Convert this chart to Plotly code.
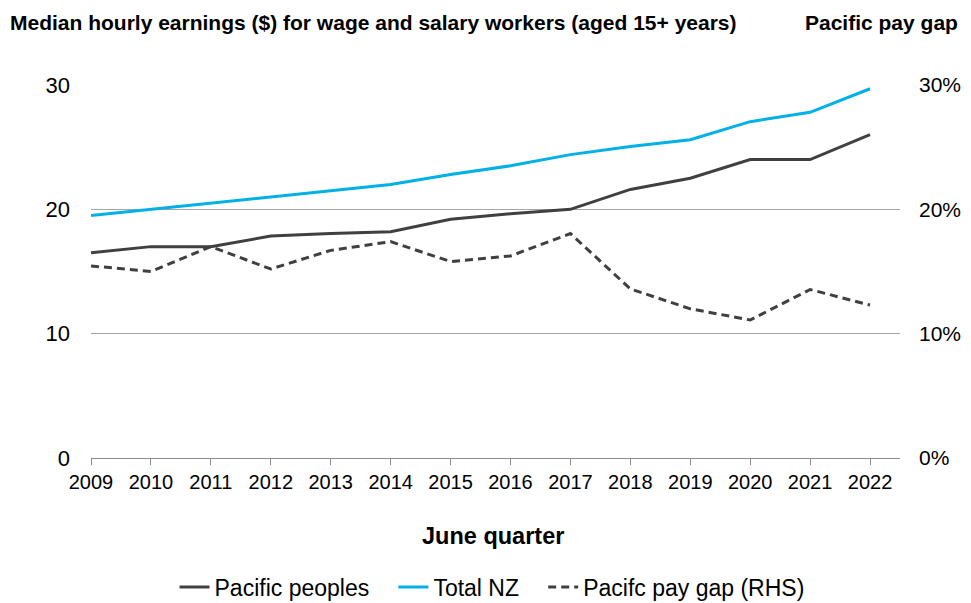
import plotly.graph_objects as go

years = list(range(2009, 2023))
pacific_peoples = [16.5, 17.0, 17.0, 17.85, 18.05, 18.2, 19.2, 19.65, 20.0, 21.6, 22.5, 24.0, 24.0, 26.0]
total_nz = [19.5, 20.0, 20.5, 21.0, 21.55, 22.0, 22.8, 23.5, 24.4, 25.05, 25.6, 27.05, 27.8, 29.7]
pay_gap_pct = [15.45, 15.0, 17.0, 15.2, 16.7, 17.4, 15.8, 16.25, 18.05, 13.6, 12.0, 11.1, 13.55, 12.3]
left_ticks = [0, 10, 20, 30]
right_ticks = [0, 10, 20, 30]
right_labels = ["0%", "10%", "20%", "30%"]

FONT = "Liberation Sans, Arial, sans-serif"
DARK = "#404040"
CYAN = "#00B0E6"
PAD = "\u00a0" * 3  # extra spacing between legend entries

# page has an 8px body margin; figure coords = page coords - 8
W, H = 963, 595
L, T = 83, 77
PW, PH = 809, 373
R = W - L - PW
B = H - T - PH

fig = go.Figure()
fig.add_trace(go.Scatter(x=years, y=pacific_peoples, name="Pacific peoples" + PAD, mode="lines",
                         line=dict(color=DARK, width=3)))
fig.add_trace(go.Scatter(x=years, y=total_nz, name="Total NZ" + PAD, mode="lines",
                         line=dict(color=CYAN, width=3)))
fig.add_trace(go.Scatter(x=years, y=pay_gap_pct, name="Pacifc pay gap (RHS)", mode="lines",
                         line=dict(color=DARK, width=3, dash="8px,5px"), yaxis="y2"))

fig.update_layout(
    width=W, height=H,
    margin=dict(l=L, r=R, t=T, b=B, autoexpand=False),
    paper_bgcolor="white", plot_bgcolor="white",
    font=dict(family=FONT, color="#000000"),
    xaxis=dict(range=[2009, 2022.5], tickvals=years, ticktext=[str(y) for y in years],
               showgrid=False, zeroline=False, showline=True, linecolor="#8c8c8c", linewidth=1,
               ticks="outside", ticklen=6, tickcolor="#8c8c8c", tickfont=dict(size=20, family=FONT),
               automargin=False, fixedrange=True),
    yaxis=dict(range=[0, 30], tickvals=left_ticks, showgrid=True, gridcolor="#a6a6a6",
               gridwidth=1, zeroline=False, showline=False, ticks="", ticklabelstandoff=20,
               tickfont=dict(size=22, family=FONT), automargin=False),
    yaxis2=dict(range=[0, 30], tickvals=right_ticks, ticktext=right_labels, overlaying="y", side="right",
                showgrid=False, zeroline=False, showline=False, ticks="", ticklabelstandoff=18,
                tickfont=dict(size=21, family=FONT), automargin=False),
    showlegend=True,
    legend=dict(orientation="h", x=(492-91)/PW, xanchor="center", y=-(587-458)/PH, yanchor="middle",
                font=dict(size=23, family=FONT), itemwidth=30, tracegroupgap=0),
)

fig.add_annotation(text="<b>Median hourly earnings ($) for wage and salary workers (aged 15+ years)</b>",
                   xref="paper", yref="paper", x=-(91-8)/PW, y=1 + (85-22)/PH, xanchor="left", yanchor="middle",
                   showarrow=False, font=dict(size=21, family=FONT))
fig.add_annotation(text="<b>Pacific pay gap</b>",
                   xref="paper", yref="paper", x=1 + 60/PW, y=1 + (85-22)/PH, xanchor="right", yanchor="middle",
                   showarrow=False, font=dict(size=21, family=FONT))
fig.add_annotation(text="<b>June quarter</b>",
                   xref="paper", yref="paper", x=(493-91)/PW, y=-(536-458)/PH, xanchor="center", yanchor="middle",
                   showarrow=False, font=dict(size=23.5, family=FONT))

fig.write_html("out.html")
